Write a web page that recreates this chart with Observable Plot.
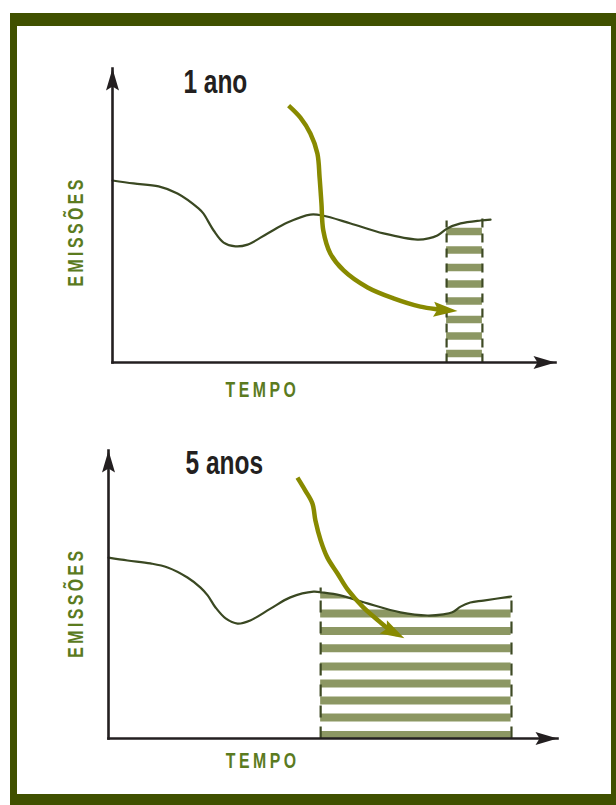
<!DOCTYPE html>
<html>
<head>
<meta charset="utf-8">
<script src="https://cdn.jsdelivr.net/npm/d3@7"></script>
<script src="https://cdn.jsdelivr.net/npm/@observablehq/plot@0.6"></script>
<style>
  html, body { margin: 0; padding: 0; background: #fff; }
  #page { position: relative; width: 616px; height: 805px; overflow: hidden; }
  #frame { position: absolute; left: 10px; top: 13px; width: 594px; height: 768px;
           border-style: solid; border-color: #405000; border-width: 13px 5px 11px 7px; }
  .panel { position: absolute; left: 0; }
</style>
</head>
<body>
<div id="page">
  <div id="frame"></div>
  <div id="p1" class="panel" style="top:0px"></div>
  <div id="p2" class="panel" style="top:400px"></div>
</div>
<script>
// ---------- data ----------
const axisLabels = ["EMISSÕES", "TEMPO"];
const panelLabels = ["1 ano", "5 anos"];
const xDomain = [0, 12];   // tempo (anos)
const yDomain = [0, 10];   // emissões (unidades relativas)

// Panel 1 – emissions curve
const timeTop = [0, 0.57, 1.25, 1.76, 2.33, 2.46, 2.74, 3.01, 3.33, 3.66, 4.20, 4.74, 5.36, 5.69, 6.45, 7.34, 8.26, 8.56, 8.80, 9.07, 9.43, 9.97, 10.24];
const emisTop = [6.19, 6.09, 5.99, 5.75, 5.24, 5.07, 4.49, 4.08, 3.95, 4.01, 4.39, 4.76, 5.03, 5.00, 4.73, 4.39, 4.18, 4.22, 4.32, 4.56, 4.73, 4.83, 4.86];
const windowTop = [9.05, 10.02];       // 1-year window
const windowTopTicks = [4.83, 5.07];   // height of the window edge marks
const stripesTop = [4.46, 3.83, 3.23, 2.67, 2.09, 1.46, 0.90, 0.31];
const arrowTopT = [4.77, 5.09, 5.36, 5.55, 5.61, 5.66, 5.71, 5.90, 6.26, 6.91, 7.61, 8.34, 8.80, 9.13];
const arrowTopE = [8.74, 8.33, 7.79, 7.11, 6.29, 5.41, 4.49, 3.71, 3.13, 2.55, 2.18, 1.90, 1.81, 1.77];

// Panel 2 – emissions curve
const timeBot = [0, 0.51, 1.12, 1.58, 2.11, 2.46, 2.65, 2.86, 3.13, 3.45, 3.79, 4.33, 4.86, 5.48, 5.72, 6.20, 6.92, 7.80, 8.52, 8.95, 9.19, 9.41, 9.67, 10.02, 10.76];
const emisBot = [6.28, 6.18, 6.08, 5.94, 5.59, 5.24, 4.97, 4.55, 4.17, 3.99, 4.10, 4.51, 4.90, 5.10, 5.07, 4.97, 4.69, 4.38, 4.27, 4.31, 4.38, 4.58, 4.72, 4.79, 4.93];
const windowBot = [5.67, 10.77];       // 5-year window
const windowBotTicks = [5.24, 5.03];
const stripesBot = [5.00, 4.34, 3.73, 3.13, 2.50, 1.91, 1.32, 0.73, 0.12];
const arrowBotT = [5.05, 5.26, 5.45, 5.53, 5.67, 5.85, 6.12, 6.41, 6.81, 7.27, 7.54, 7.72];
const arrowBotE = [9.06, 8.61, 8.16, 7.57, 6.88, 6.28, 5.73, 5.14, 4.55, 4.03, 3.75, 3.61];

// ---------- styles ----------
const FONT = "'Liberation Sans', Arial, sans-serif";
const CONDENSE_LABEL = 0.72, CONDENSE_AXIS = 0.72;
const AX = "#231f20", CURVE = "#3a4822", ARROW = "#888a00", STRIPE = "#8c9763", DASH = "#3e4a24", LABEL = "#5b7b1f";
const NS = "http://www.w3.org/2000/svg";

function drawPanel(o) {
  const curve = o.t.map((t, i) => ({t, e: o.e[i]}));
  const arrow = o.at.map((t, i) => ({t, e: o.ae[i]}));
  const edges = o.win.map((t, i) => ({t, top: o.ticks[i]}));
  const svg = Plot.plot({
    width: 616, height: o.height,
    marginLeft: o.ml, marginRight: o.mr, marginTop: o.mt, marginBottom: o.mb,
    x: {domain: xDomain, axis: null},
    y: {domain: yDomain, axis: null},
    style: {background: "transparent", overflow: "visible"},
    marks: [
      Plot.areaY(curve, {x: "t", y: "e", curve: "catmull-rom", fill: "none"}),
      Plot.ruleY(o.stripes, {y: d => d, x1: o.win[0], x2: o.win[1], stroke: STRIPE, strokeWidth: o.stripeW}),
      Plot.link(edges, {x1: "t", x2: "t", y1: 0, y2: "top", stroke: DASH, strokeWidth: 2.2, strokeDasharray: o.dash}),
      Plot.line(curve, {x: "t", y: "e", curve: "catmull-rom", stroke: CURVE, strokeWidth: 2.2}),
      Plot.link([0], {x1: xDomain[0], y1: yDomain[0], x2: xDomain[1], y2: yDomain[0], stroke: AX, strokeWidth: 2.6, strokeLinecap: "square", markerEnd: "arrow"}),
      Plot.link([0], {x1: xDomain[0], y1: yDomain[0], x2: xDomain[0], y2: yDomain[1], stroke: AX, strokeWidth: 2.6, strokeLinecap: "square", markerEnd: "arrow"}),
      Plot.line(arrow, {x: "t", y: "e", curve: "catmull-rom", stroke: ARROW, strokeWidth: 4.5, strokeLinecap: "butt", markerEnd: "arrow"}),
      Plot.text([o.label], {x: o.lx, y: o.ly, text: d => d, textAnchor: "start", lineAnchor: "bottom",
        fontSize: 34, fontWeight: 700, fill: AX, fontFamily: FONT}),
      Plot.text([axisLabels[1]], {x: o.tx, y: o.ty, text: d => d, textAnchor: "middle", lineAnchor: "bottom",
        fontSize: 22, fontWeight: 700, fill: LABEL, fontFamily: FONT}),
      Plot.text([axisLabels[0]], {x: o.ex, y: o.ey, text: d => d, rotate: -90, textAnchor: "middle", lineAnchor: "middle",
        fontSize: 22, fontWeight: 700, fill: LABEL, fontFamily: FONT})
    ]
  });

  // clip the hatch stripes to the area under the emissions curve
  const areaPath = svg.querySelector('g[aria-label="area"] path');
  const defs = document.createElementNS(NS, "defs");
  const cp = document.createElementNS(NS, "clipPath");
  cp.setAttribute("id", o.id + "-clip");
  const p = document.createElementNS(NS, "path");
  p.setAttribute("d", areaPath.getAttribute("d"));
  cp.appendChild(p); defs.appendChild(cp);
  svg.insertBefore(defs, svg.firstChild);
  svg.querySelector('g[aria-label="rule"]').setAttribute("clip-path", `url(#${o.id}-clip)`);
  areaPath.parentNode.remove();

  // filled arrowheads
  svg.querySelectorAll("marker").forEach(m => {
    const c = m.getAttribute("stroke");
    const big = c === ARROW;
    m.setAttribute("viewBox", big ? "-18 -10 28 20" : "-24 -8 26 16");
    m.setAttribute("markerWidth", big ? 28 : 26);
    m.setAttribute("markerHeight", big ? 20 : 16);
    m.setAttribute("markerUnits", "userSpaceOnUse");
    m.setAttribute("fill", c);
    m.setAttribute("stroke", "none");
    while (m.firstChild) m.removeChild(m.firstChild);
    const h = document.createElementNS(NS, "path");
    h.setAttribute("d", big ? "M8,0L-16,-7.5L-12,0L-16,7.5Z" : "M0,0L-22,-6.5L-18,0L-22,6.5Z");
    m.appendChild(h);
  });

  // condensed lettering, letter spacing for the axis titles
  svg.querySelectorAll("text").forEach(t => {
    const isAxis = axisLabels.includes(t.textContent);
    if (isAxis) t.setAttribute("letter-spacing", "4.8");
    const tr = t.getAttribute("transform") || "";
    t.setAttribute("transform", `${tr} scale(${isAxis ? CONDENSE_AXIS : CONDENSE_LABEL},1)`);
  });
  return svg;
}

document.getElementById("p1").appendChild(drawPanel({
  id: "top", height: 400, ml: 112, mr: 61, mt: 68, mb: 38,
  t: timeTop, e: emisTop, at: arrowTopT, ae: arrowTopE,
  win: windowTop, ticks: windowTopTicks, stripes: stripesTop, stripeW: 7.5, dash: "9,6",
  label: panelLabels[0], lx: 1.92, ly: 9.15, tx: 4.06, ty: -1.19, ex: -1.0, ey: 4.46
}));
document.getElementById("p2").appendChild(drawPanel({
  id: "bot", height: 405, ml: 108, mr: 59, mt: 50, mb: 67,
  t: timeBot, e: emisBot, at: arrowBotT, ae: arrowBotE,
  win: windowBot, ticks: windowBotTicks, stripes: stripesBot, stripeW: 8, dash: "12,9",
  label: panelLabels[1], lx: 2.06, ly: 9.2, tx: 4.12, ty: -1.04, ex: -0.88, ey: 4.72
}));
</script>
</body>
</html>
